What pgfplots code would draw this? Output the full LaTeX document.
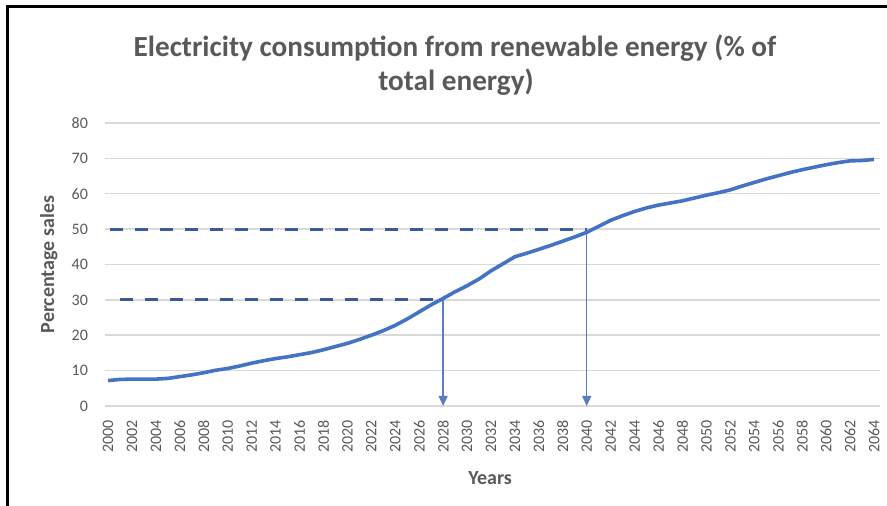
\documentclass[border=0pt]{standalone}
\usepackage{pgfplots}
\pgfplotsset{compat=1.18}
\usepackage{fontspec}
\setmainfont{Carlito}
\usetikzlibrary{arrows.meta}
\definecolor{txtgray}{HTML}{595959}
\definecolor{gridgray}{HTML}{D9D9D9}
\definecolor{lineblue}{HTML}{4472C4}
\definecolor{dashblue}{HTML}{3A5A98}
\definecolor{arrowblue}{HTML}{5B7DBF}
\begin{document}
\begin{tikzpicture}
\useasboundingbox (0,0) rectangle (443.5pt,253pt);
\draw[line width=1.5pt, black] (3.9pt,0) -- (3.9pt,249.6pt) -- (443.5pt,249.6pt);
\node[text=txtgray, font=\fontsize{14.6}{16}\selectfont\bfseries] at (227.5pt,229pt) {Electricity consumption from renewable energy (\% of};
\node[text=txtgray, font=\fontsize{14.6}{16}\selectfont\bfseries] at (228pt,212pt) {total energy)};
\begin{axis}[
  at={(52.5pt,50pt)}, anchor=south west,
  scale only axis, width=387.5pt, height=141.5pt,
  xmin=1999.75, xmax=2064.5, ymin=0, ymax=80,
  xtick={2000,2002,...,2064}, ytick={0,10,...,80},
  major tick length=0pt,
  axis line style={draw=none},
  ymajorgrids, grid style={gridgray, line width=0.75pt},
  /pgf/number format/assume math mode=true,
  /pgf/number format/1000 sep={},
  tick label style={text=txtgray, font=\fontsize{8}{9}\selectfont},
  xticklabel style={rotate=90, anchor=east, yshift=0pt, xshift=-3.5pt},
  yticklabel style={xshift=-5pt},
  xlabel={\textbf{Years}}, ylabel={\textbf{Percentage sales}},
  label style={text=txtgray, font=\fontsize{10}{12}\selectfont},
  xlabel style={at={(axis description cs:0.497,-0.254)}, anchor=center},
  ylabel style={at={(axis description cs:-0.0725,0.5)}, anchor=center},
  clip=false,
]
\addplot[dashblue, line width=1.5pt, dash pattern=on 6.5pt off 6pt] coordinates {(2000.2,50) (2040,50)};
\addplot[dashblue, line width=1.5pt, dash pattern=on 6.5pt off 6pt] coordinates {(2001,30) (2028,30)};
\addplot[arrowblue, line width=0.65pt, -{Triangle[width=4.5pt,length=5pt]}] coordinates {(2028,30) (2028,0)};
\addplot[arrowblue, line width=0.65pt, -{Triangle[width=4.5pt,length=5pt]}] coordinates {(2040,49.1) (2040,0)};
\addplot[lineblue, line width=1.8pt, line join=round] coordinates {
(2000,7.2) (2001,7.5) (2002,7.6) (2003,7.6) (2004,7.6) (2005,7.8) (2006,8.3) (2007,8.8)
(2008,9.4) (2009,10.1) (2010,10.6) (2011,11.3) (2012,12.1) (2013,12.8) (2014,13.4)
(2015,13.9) (2016,14.5) (2017,15.1) (2018,15.9) (2019,16.8) (2020,17.7) (2021,18.8)
(2022,20.0) (2023,21.3) (2024,22.8) (2025,24.6) (2026,26.6) (2027,28.6) (2028,30.4)
(2029,32.3) (2030,34.0) (2031,35.9) (2032,38.2) (2033,40.2) (2034,42.2) (2035,43.2)
(2036,44.3) (2037,45.4) (2038,46.6) (2039,47.8) (2040,49.1) (2041,50.8) (2042,52.5)
(2043,53.8) (2044,55.0) (2045,56.0) (2046,56.8) (2047,57.4) (2048,58.0) (2049,58.8)
(2050,59.6) (2051,60.3) (2052,61.1) (2053,62.2) (2054,63.2) (2055,64.2) (2056,65.1)
(2057,66.0) (2058,66.8) (2059,67.5) (2060,68.2) (2061,68.8) (2062,69.3) (2063,69.4)
(2064,69.7)};
\end{axis}
\end{tikzpicture}
\end{document}
